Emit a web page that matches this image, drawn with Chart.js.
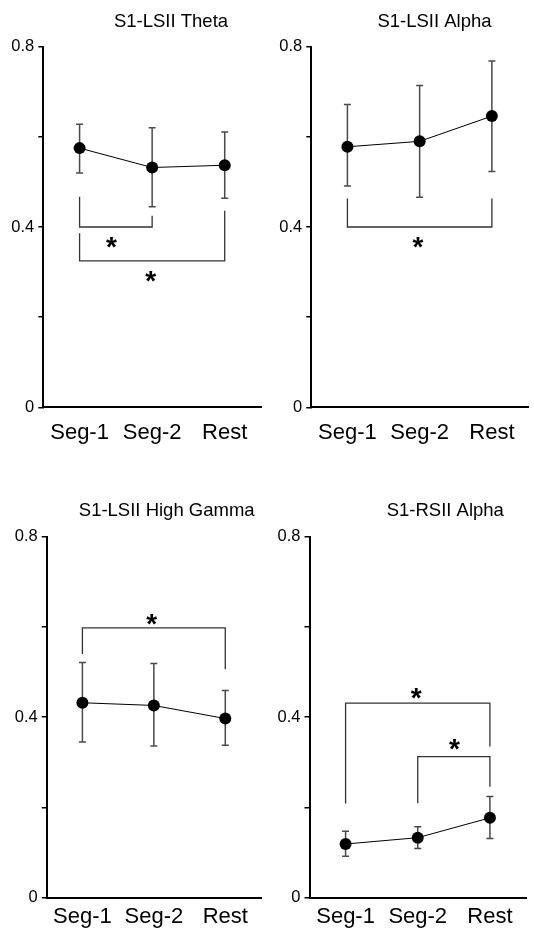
<!DOCTYPE html>
<html>
<head>
<meta charset="utf-8">
<script src="https://cdn.jsdelivr.net/npm/chart.js@4.4.0/dist/chart.umd.min.js"></script>
<style>
  body { margin: 0; background: #fff; width: 534px; height: 932px; position: relative; overflow: hidden; }
  canvas { position: absolute; }
</style>
</head>
<body>
<canvas id="p1" width="267" height="466" style="left:0;top:0"></canvas>
<canvas id="p2" width="267" height="466" style="left:267px;top:0"></canvas>
<canvas id="p3" width="267" height="466" style="left:0;top:466px"></canvas>
<canvas id="p4" width="267" height="466" style="left:267px;top:466px"></canvas>
<script>
const categories = ['Seg-1', 'Seg-2', 'Rest'];
const yTickLabels = [0, 0.4, 0.8];

// S1-LSII Theta
const thetaMean = [0.575, 0.532, 0.537];
const thetaUpper = [0.628, 0.620, 0.611];
const thetaLower = [0.520, 0.445, 0.464];
const thetaBrackets = [
    { from: 0, to: 1, y: 0.400, leftEnd: 0.467, rightEnd: 0.425, starX: 0.44, starY: 0.371 },
    { from: 0, to: 2, y: 0.325, leftEnd: 0.386, rightEnd: 0.436, starX: 0.98, starY: 0.294 }
];

// S1-LSII Alpha
const alphaMean = [0.578, 0.590, 0.646];
const alphaUpper = [0.672, 0.714, 0.768];
const alphaLower = [0.491, 0.466, 0.523];
const alphaBrackets = [
    { from: 0, to: 2, y: 0.400, leftEnd: 0.463, rightEnd: 0.463, starX: 0.975, starY: 0.371 }
];

// S1-LSII High Gamma
const gammaMean = [0.432, 0.426, 0.397];
const gammaUpper = [0.521, 0.519, 0.459];
const gammaLower = [0.345, 0.336, 0.338];
const gammaBrackets = [
    { from: 0, to: 2, y: 0.598, leftEnd: 0.540, rightEnd: 0.506, starX: 0.97, starY: 0.621 }
];

// S1-RSII Alpha
const rAlphaMean = [0.119, 0.133, 0.177];
const rAlphaUpper = [0.147, 0.157, 0.224];
const rAlphaLower = [0.092, 0.109, 0.131];
const rAlphaBrackets = [
    { from: 0, to: 2, y: 0.431, leftEnd: 0.209, rightEnd: 0.335, starX: 0.98, starY: 0.4565 },
    { from: 1, to: 2, y: 0.3125, leftEnd: 0.2095, rightEnd: 0.246, starX: 1.51, starY: 0.3435 }
];

const FONT = "'Liberation Sans', Arial, sans-serif";
const STAR = 28;

// error bars, brackets, asterisks and panel title
const extras = {
    id: 'extras',
    beforeDatasetsDraw(chart) {
        const ctx = chart.ctx;
        const ds = chart.config.data.datasets[0];
        const meta = chart.getDatasetMeta(0);
        const ys = chart.scales.y;
        ctx.save();
        ctx.strokeStyle = '#4a4a4a';
        ctx.lineWidth = 1.5;
        meta.data.forEach((pt, i) => {
            const top = ys.getPixelForValue(ds.errUpper[i]);
            const bot = ys.getPixelForValue(ds.errLower[i]);
            ctx.beginPath();
            ctx.moveTo(pt.x, top); ctx.lineTo(pt.x, bot);
            ctx.moveTo(pt.x - 3.5, top); ctx.lineTo(pt.x + 3.5, top);
            ctx.moveTo(pt.x - 3.5, bot); ctx.lineTo(pt.x + 3.5, bot);
            ctx.stroke();
        });
        ctx.restore();
    },
    afterDraw(chart, args, opts) {
        const ctx = chart.ctx;
        const xs = chart.scales.x, ys = chart.scales.y;
        ctx.save();
        ctx.strokeStyle = '#333';
        ctx.lineWidth = 1.3;
        ctx.fillStyle = '#000';
        opts.brackets.forEach(b => {
            const x1 = xs.getPixelForValue(b.from), x2 = xs.getPixelForValue(b.to);
            const y = ys.getPixelForValue(b.y);
            ctx.beginPath();
            ctx.moveTo(x1, ys.getPixelForValue(b.leftEnd));
            ctx.lineTo(x1, y);
            ctx.lineTo(x2, y);
            ctx.lineTo(x2, ys.getPixelForValue(b.rightEnd));
            ctx.stroke();
            ctx.font = 'bold ' + STAR + 'px ' + FONT;
            ctx.textAlign = 'center';
            ctx.textBaseline = 'alphabetic';
            ctx.fillText('*', xs.getPixelForValue(b.starX), ys.getPixelForValue(b.starY) + STAR * 0.56);
        });
        ctx.font = '18.5px ' + FONT;
        ctx.textAlign = 'center';
        ctx.textBaseline = 'alphabetic';
        ctx.fillText(opts.title, opts.titleX, opts.titleY);
        ctx.restore();
    }
};

function makePanel(id, p) {
    new Chart(document.getElementById(id), {
        type: 'line',
        data: {
            labels: categories,
            datasets: [{
                data: p.mean,
                errUpper: p.upper,
                errLower: p.lower,
                borderColor: '#000',
                borderWidth: 1,
                pointRadius: 6,
                pointBackgroundColor: '#000',
                pointBorderWidth: 0,
                tension: 0,
                fill: false
            }]
        },
        options: {
            responsive: false,
            animation: false,
            events: [],
            layout: { padding: { top: p.top, right: p.right, left: 0, bottom: 0 } },
            plugins: {
                legend: { display: false },
                tooltip: { enabled: false },
                extras: { title: p.title, titleX: p.titleX, titleY: p.titleY, brackets: p.brackets }
            },
            scales: {
                x: {
                    offset: true,
                    grid: { drawOnChartArea: false, drawTicks: false },
                    border: { color: '#000', width: 2 },
                    ticks: { color: '#000', font: { family: FONT, size: 22 }, padding: p.xPad },
                    afterFit(s) { s.height = p.xH; }
                },
                y: {
                    min: 0,
                    max: 0.8,
                    ticks: {
                        stepSize: 0.2,
                        color: '#000',
                        padding: 4,
                        font: { family: FONT, size: 16.5 },
                        callback: v => {
                            const r = Math.round(v * 10) / 10;
                            return yTickLabels.includes(r) && Math.abs(v - r) < 1e-6 ? String(r) : '';
                        }
                    },
                    grid: { drawOnChartArea: false, tickLength: 5, color: '#000', lineWidth: 1.5 },
                    border: { color: '#000', width: 2 },
                    afterFit(s) { s.width = p.yW; }
                }
            }
        },
        plugins: [extras]
    });
}

makePanel('p1', { mean: thetaMean, upper: thetaUpper, lower: thetaLower, brackets: thetaBrackets,
    title: 'S1-LSII Theta', titleX: 171, titleY: 26.5, top: 46.7, right: 4, yW: 43.3, xH: 58.7, xPad: 12 });
makePanel('p2', { mean: alphaMean, upper: alphaUpper, lower: alphaLower, brackets: alphaBrackets,
    title: 'S1-LSII Alpha', titleX: 167.5, titleY: 26.5, top: 46.7, right: 4, yW: 44.3, xH: 58.7, xPad: 12 });
makePanel('p3', { mean: gammaMean, upper: gammaUpper, lower: gammaLower, brackets: gammaBrackets,
    title: 'S1-LSII High Gamma', titleX: 166.7, titleY: 49.7, top: 70.7, right: 4, yW: 46.7, xH: 34.3, xPad: 6 });
makePanel('p4', { mean: rAlphaMean, upper: rAlphaUpper, lower: rAlphaLower, brackets: rAlphaBrackets,
    title: 'S1-RSII Alpha', titleX: 178.3, titleY: 49.7, top: 70.7, right: 8, yW: 42.5, xH: 34.3, xPad: 6 });
</script>
</body>
</html>
